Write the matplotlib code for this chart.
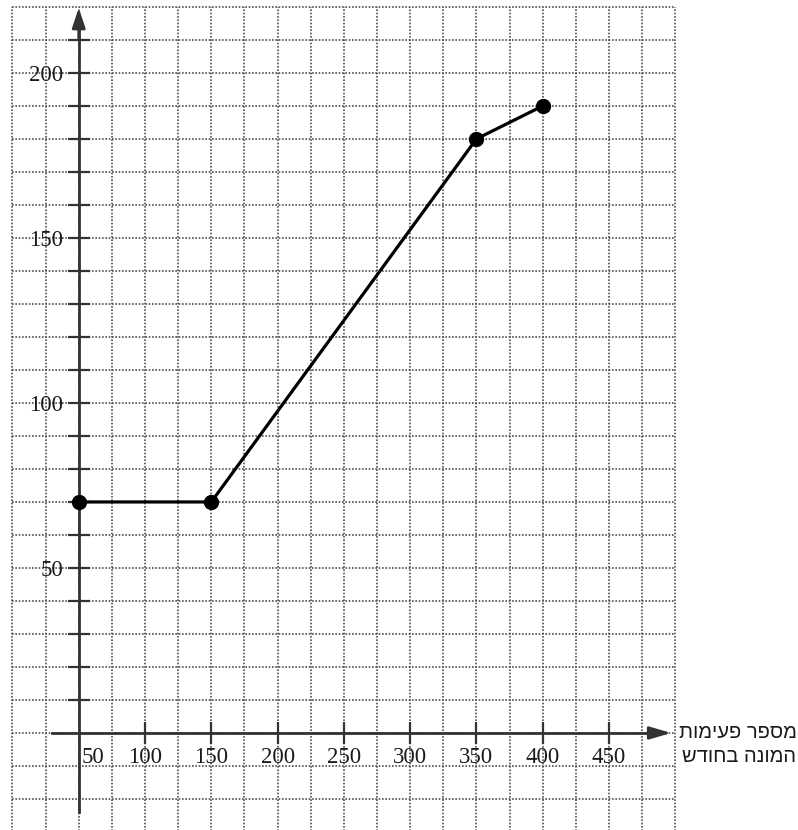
import matplotlib
matplotlib.use("Agg")
import matplotlib.pyplot as plt
import matplotlib.transforms as mtransforms
import numpy as np

# data
x_vals = [50, 150, 350, 400]
y_vals = [70, 70, 180, 190]
x_ticks = [50, 100, 150, 200, 250, 300, 350, 400, 450]
y_ticks = list(range(10, 211, 10))
y_label_vals = [50, 100, 150, 200]
xlabel_lines = ["מספר פעימות", "המונה בחודש"]

W, H = 798, 830
fig = plt.figure(figsize=(W / 100, H / 100), dpi=100)
ax = fig.add_axes([0, 0, 1, 1])
ax.set_xlim(-9.4, 592.6)
ax.set_ylim(-29.4, 222.1)

grid_col = "#505050"
ax.vlines(np.arange(0, 501, 25), -30, 220, colors=grid_col, linestyles=(0, (1, 1)), lw=1.2, zorder=1)
ax.hlines(np.arange(-30, 221, 10), 0, 500, colors=grid_col, linestyles=(0, (1, 1)), lw=1.2, zorder=1)

axis_col = "#333333"
for s in ["top", "right"]:
    ax.spines[s].set_visible(False)
ax.spines["left"].set_position(("data", 50))
ax.spines["bottom"].set_position(("data", 0))
ax.spines["left"].set_bounds(-24, 214)
ax.spines["bottom"].set_bounds(30, 490)
for s in ["left", "bottom"]:
    ax.spines[s].set_color(axis_col)
    ax.spines[s].set_linewidth(2)
    ax.spines[s].set_zorder(3)

ax.annotate("", xy=(50, 219.7), xytext=(50, 210), zorder=4,
            arrowprops=dict(arrowstyle="-|>,head_length=1.2,head_width=0.4", color=axis_col, lw=2, shrinkA=0, shrinkB=0))
ax.annotate("", xy=(497, 0), xytext=(485, 0), zorder=4,
            arrowprops=dict(arrowstyle="-|>,head_length=1.3,head_width=0.38", color=axis_col, lw=2, shrinkA=0, shrinkB=0))

serif = "Liberation Serif"
ax.set_xticks(x_ticks)
ax.set_xticklabels([str(v) for v in x_ticks], fontfamily=serif, fontsize=16.5, color="#1a1a1a")
ax.set_yticks(y_ticks)
ax.set_yticklabels([str(v) if v in y_label_vals else "" for v in y_ticks], fontfamily=serif, fontsize=16.5, color="#1a1a1a")
ax.tick_params(axis="both", direction="inout", length=16, width=1.6, color=axis_col)
ax.tick_params(axis="x", pad=2)
ax.tick_params(axis="y", pad=3)
xt = ax.get_xticklabels()
xt[0].set_ha("left")
xt[0].set_transform(xt[0].get_transform() + mtransforms.ScaledTranslation(3 / 100, 0, fig.dpi_scale_trans))
ax.xaxis.get_major_ticks()[0].tick1line.set_visible(False)

ax.plot(x_vals, y_vals, color="black", lw=2.3, marker="o", markersize=10, zorder=5)

ys = [1 - 733 / H, 1 - 756 / H]
for line, yy in zip(xlabel_lines, ys):
    fig.text(0.998, yy, line[::-1], ha="right", va="center", fontfamily="Liberation Sans", fontsize=14.5, color="#1a1a1a")

fig.savefig("out.png", dpi=100)
